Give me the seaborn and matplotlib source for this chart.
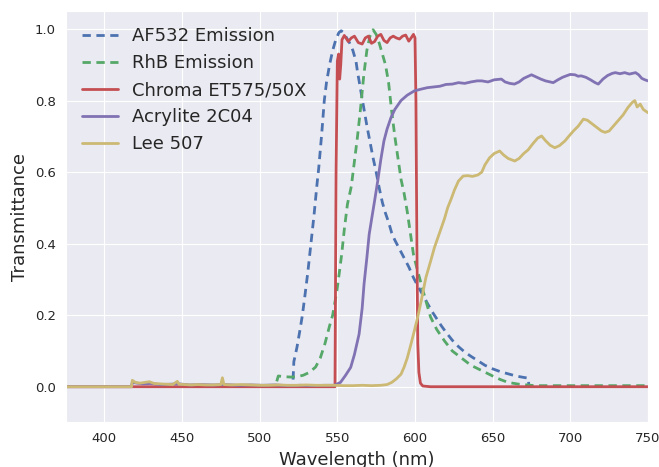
import numpy as np
import pandas as pd
import matplotlib
matplotlib.use("Agg")
import matplotlib.pyplot as plt
import seaborn as sns

# ---- spectra (wavelength in nm, transmittance / normalised emission) ----
af532_wl = [521.5, 522.0, 524, 526, 527.5, 529, 531, 533, 535, 537, 538, 540, 541.6,
            543, 545, 547, 549, 551, 552.5, 554, 556, 558, 560, 562, 563, 565, 567,
            569, 571, 573, 575, 577, 579, 581, 583, 585, 587, 590, 593, 596, 599,
            602, 605, 608, 611, 614, 617, 620, 624, 628, 632, 636, 640, 645, 650,
            655, 660, 665, 670, 673, 673.3]
af532_em = [0.02, 0.07, 0.11, 0.16, 0.20, 0.25, 0.32, 0.40, 0.48, 0.57, 0.61, 0.71,
            0.80, 0.85, 0.90, 0.94, 0.97, 0.99, 0.995, 0.99, 0.975, 0.96, 0.94,
            0.91, 0.88, 0.83, 0.78, 0.73, 0.685, 0.64, 0.60, 0.555, 0.515, 0.485,
            0.46, 0.43, 0.41, 0.385, 0.36, 0.335, 0.305, 0.28, 0.257, 0.233, 0.21,
            0.19, 0.17, 0.152, 0.13, 0.112, 0.097, 0.085, 0.074, 0.06, 0.05, 0.042,
            0.036, 0.03, 0.026, 0.024, 0.0]

rhb_wl = [511.0, 512.0, 516, 520, 524, 528, 532, 536, 539, 542, 545, 547, 549.6,
          551, 552.8, 554.5, 556.5, 559, 561, 563, 565, 567, 569, 571, 573, 575,
          577, 579, 581, 583, 585, 587, 589, 591, 593, 595, 597, 599, 601, 604,
          607, 610, 614, 619, 624, 630, 636, 643, 650, 655, 660, 667, 677, 690,
          710, 730, 750]
rhb_em = [0.015, 0.03, 0.028, 0.027, 0.028, 0.032, 0.04, 0.055, 0.08, 0.12, 0.17,
          0.20, 0.265, 0.31, 0.37, 0.44, 0.51, 0.56, 0.63, 0.70, 0.78, 0.87, 0.94,
          0.98, 0.998, 0.985, 0.96, 0.93, 0.90, 0.85, 0.77, 0.70, 0.64, 0.58,
          0.54, 0.49, 0.43, 0.37, 0.335, 0.287, 0.24, 0.195, 0.16, 0.128, 0.10,
          0.08, 0.06, 0.045, 0.03, 0.02, 0.012, 0.007, 0.003, 0.003, 0.003, 0.003,
          0.003]

chroma_wl = [375, 548.5, 549.2, 550.0, 550.8, 551.5, 552.2, 553.0, 554.5, 557, 559,
             561, 563.5, 566, 568, 570, 572, 574, 576, 578, 580, 582, 584, 586,
             588, 590, 592, 594, 596, 597.5, 599, 600, 600.6, 601.2, 601.8, 602.5,
             603.5, 605, 610, 750]
chroma_t = [0.0, 0.0, 0.6, 0.91, 0.93, 0.86, 0.90, 0.97, 0.982, 0.965, 0.975, 0.98,
            0.962, 0.958, 0.975, 0.98, 0.96, 0.965, 0.98, 0.985, 0.968, 0.962,
            0.975, 0.98, 0.975, 0.972, 0.98, 0.983, 0.966, 0.975, 0.985, 0.975,
            0.80, 0.40, 0.12, 0.04, 0.01, 0.002, 0.0, 0.0]

acrylite_wl = [375, 417.5, 418, 421, 425, 430, 436, 442, 448, 455, 462, 470, 478,
               486, 494, 502, 510, 518, 526, 534, 542, 548, 552, 555, 558.6, 561,
               564, 566, 567.2, 569, 570.5, 572.5, 574, 576, 578, 580, 582, 584.5,
               587, 591, 595, 599.6, 604, 608, 612, 616, 620, 624, 628, 632, 636,
               640, 643, 647, 651, 655.6, 658, 661, 664, 667, 670, 673, 675, 678,
               681, 684, 687, 689, 692, 695, 698, 700, 703, 705, 707, 710, 713,
               716, 718, 721, 724, 727, 729, 732, 735, 738, 742, 744, 746, 748, 750]
acrylite_t = [0.0, 0.0, 0.012, 0.01, 0.008, 0.009, 0.006, 0.007, 0.008, 0.005,
              0.006, 0.005, 0.006, 0.004, 0.005, 0.004, 0.005, 0.003, 0.004, 0.003,
              0.004, 0.004, 0.012, 0.03, 0.054, 0.09, 0.147, 0.22, 0.287, 0.36,
              0.426, 0.48, 0.52, 0.575, 0.635, 0.687, 0.72, 0.752, 0.775, 0.80,
              0.815, 0.827, 0.832, 0.836, 0.838, 0.84, 0.845, 0.846, 0.85, 0.848,
              0.852, 0.855, 0.855, 0.852, 0.858, 0.86, 0.852, 0.848, 0.846, 0.852,
              0.862, 0.868, 0.872, 0.866, 0.86, 0.855, 0.852, 0.85, 0.858, 0.865,
              0.87, 0.873, 0.872, 0.868, 0.869, 0.865, 0.858, 0.85, 0.846, 0.86,
              0.87, 0.876, 0.878, 0.875, 0.878, 0.874, 0.878, 0.872, 0.862, 0.858,
              0.855]

lee_wl = [375, 417.5, 418, 420, 423, 426, 429, 432, 436, 440, 444, 447, 448, 452,
          456, 460, 465, 470, 475, 476, 477, 482, 488, 494, 500, 506, 512, 518,
          524, 530, 536, 542, 548, 554, 560, 566, 572, 578, 582, 585, 588, 591,
          593, 595, 597.4, 599.5, 601.7, 604, 607, 610, 612.5, 615, 619, 621,
          623.3, 625.4, 628, 631, 634, 637, 640.5, 643, 645, 648, 651, 654.5, 657,
          660, 664.2, 667, 670, 672.8, 676, 679, 681.5, 684, 687, 690, 693, 696.5,
          699, 702, 705, 708.4, 711, 714, 717, 720, 722.4, 725, 728, 731, 734, 737,
          739.7, 741.5, 743, 745, 747, 750]
lee_t = [0.0, 0.0, 0.018, 0.012, 0.01, 0.012, 0.014, 0.009, 0.008, 0.007, 0.006,
         0.015, 0.007, 0.006, 0.005, 0.006, 0.005, 0.005, 0.006, 0.025, 0.006,
         0.005, 0.006, 0.005, 0.004, 0.004, 0.005, 0.004, 0.004, 0.005, 0.004,
         0.004, 0.004, 0.003, 0.003, 0.004, 0.003, 0.004, 0.006, 0.012, 0.022,
         0.035, 0.055, 0.08, 0.119, 0.155, 0.194, 0.24, 0.305, 0.35, 0.389, 0.42,
         0.47, 0.50, 0.525, 0.55, 0.575, 0.589, 0.59, 0.588, 0.592, 0.60, 0.62,
         0.64, 0.652, 0.659, 0.648, 0.638, 0.631, 0.638, 0.652, 0.662, 0.68,
         0.695, 0.701, 0.688, 0.675, 0.668, 0.674, 0.687, 0.70, 0.715, 0.728,
         0.748, 0.745, 0.735, 0.725, 0.715, 0.711, 0.715, 0.73, 0.745, 0.76, 0.78,
         0.794, 0.80, 0.782, 0.79, 0.775, 0.766]

series_labels = ["AF532 Emission", "RhB Emission", "Chroma ET575/50X",
                 "Acrylite 2C04", "Lee 507"]
x_ticks = [400, 450, 500, 550, 600, 650, 700, 750]
y_ticks = [0.0, 0.2, 0.4, 0.6, 0.8, 1.0]

sns.set_style("darkgrid")
plt.rcParams["font.family"] = ["DejaVu Sans"]
colors = sns.color_palette("deep6")

fig = plt.figure(figsize=(6.59, 4.67), dpi=100)
ax = fig.add_axes([0.0994, 0.0953, 0.8839, 0.8809])

curves = [(af532_wl, af532_em), (rhb_wl, rhb_em), (chroma_wl, chroma_t),
          (acrylite_wl, acrylite_t), (lee_wl, lee_t)]
styles = [(0, (3, 2)), (0, (3, 2)), "-", "-", "-"]

for (wl, val), label, col, ls in zip(curves, series_labels, colors, styles):
    df = pd.DataFrame({"wavelength": wl, "value": val})
    sns.lineplot(data=df, x="wavelength", y="value", ax=ax, color=col,
                 linewidth=2.0, linestyle=ls, label=label,
                 estimator=None, sort=False)

ax.set_xlim(375, 750)
ax.set_ylim(-0.1, 1.05)
ax.set_xticks(x_ticks)
ax.set_yticks(y_ticks)
ax.set_xticklabels([str(t) for t in x_ticks])
ax.set_yticklabels([f"{t:.1f}" for t in y_ticks])
ax.tick_params(labelsize=9.5, colors=".15")
ax.set_xlabel("Wavelength (nm)", fontsize=13, color=".15")
ax.set_ylabel("Transmittance", fontsize=13, color=".15")

leg = ax.legend(loc="upper left", frameon=False, fontsize=13)
for txt in leg.get_texts():
    txt.set_color(".15")

fig.savefig("out.png", dpi=100)
